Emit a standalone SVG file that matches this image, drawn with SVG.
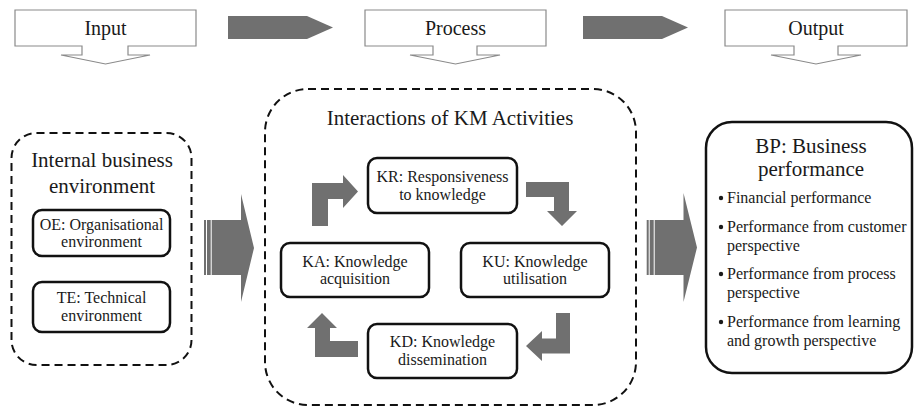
<svg xmlns="http://www.w3.org/2000/svg" width="915" height="410" viewBox="0 0 915 410" font-family="Liberation Serif, Times New Roman, serif">
<defs>
<style>
text{font-family:'Liberation Serif','Times New Roman',serif;fill:#1a1a1a;text-anchor:middle}
.hdr{font-size:20px}
.ttl{font-size:21px}
.lbl{font-size:16px}
.bl{font-size:16px;text-anchor:start}
.callout{fill:#fff;stroke:#8a8a8a;stroke-width:1.2}
.grey{fill:#707070;stroke:none}
.dash{fill:none;stroke:#111;stroke-width:2;stroke-dasharray:8 5}
.node{fill:#fff;stroke:#111;stroke-width:2.5}
</style>
</defs>
<rect width="915" height="410" fill="#fff"/>

<g id="input">
<path class="callout" d="M15,10 H196 V46 H128 V55 H150 L105.5,64 L61,55 H82 V46 H15 Z"/>
<text class="hdr" x="105.5" y="35">Input</text>
</g>
<g id="process">
<path class="callout" d="M365,10 H546 V46 H477 V55 H500 L455.5,64 L410,55 H433 V46 H365 Z"/>
<text class="hdr" x="455.5" y="35">Process</text>
</g>
<g id="output">
<path class="callout" d="M725,10 H907 V46 H838 V55 H861 L816,64 L771,55 H794 V46 H725 Z"/>
<text class="hdr" x="816" y="35">Output</text>
</g>

<g id="env">
<rect class="dash" x="11.5" y="133" width="180" height="232" rx="25"/>
<text class="ttl" x="102" y="167">Internal business</text>
<text class="ttl" x="102" y="193">environment</text>
</g>
<g id="oe">
<rect class="node" x="33" y="210" width="137" height="46" rx="9"/>
<text class="lbl" x="101.5" y="230">OE: Organisational</text>
<text class="lbl" x="101.5" y="247">environment</text>
</g>
<g id="te">
<rect class="node" x="33" y="282" width="137" height="50" rx="9"/>
<text class="lbl" x="101.5" y="303">TE: Technical</text>
<text class="lbl" x="101.5" y="321">environment</text>
</g>

<g id="km">
<rect class="dash" x="265" y="89" width="371" height="316" rx="43"/>
<text class="ttl" x="450" y="125">Interactions of KM Activities</text>
</g>
<g id="kr">
<rect class="node" x="368" y="158" width="149" height="55" rx="9"/>
<text class="lbl" x="442.5" y="182">KR: Responsiveness</text>
<text class="lbl" x="442.5" y="200">to knowledge</text>
</g>
<g id="ka">
<rect class="node" x="281" y="243" width="148" height="54" rx="9"/>
<text class="lbl" x="355" y="267">KA: Knowledge</text>
<text class="lbl" x="355" y="284">acquisition</text>
</g>
<g id="ku">
<rect class="node" x="461" y="243" width="148" height="54" rx="9"/>
<text class="lbl" x="535" y="267">KU: Knowledge</text>
<text class="lbl" x="535" y="284">utilisation</text>
</g>
<g id="kd">
<rect class="node" x="368" y="324" width="149" height="54" rx="9"/>
<text class="lbl" x="442.5" y="347">KD: Knowledge</text>
<text class="lbl" x="442.5" y="365">dissemination</text>
</g>

<g id="bp">
<rect class="node" x="706" y="122" width="206" height="251" rx="26"/>
<text class="ttl" x="811" y="153">BP: Business</text>
<text class="ttl" x="811" y="176">performance</text>
<circle cx="721" cy="198" r="2.2" fill="#1a1a1a"/>
<text class="bl" x="727" y="203">Financial performance</text>
<circle cx="721" cy="227" r="2.2" fill="#1a1a1a"/>
<text class="bl" x="727" y="232">Performance from customer</text>
<text class="bl" x="727" y="251">perspective</text>
<circle cx="721" cy="274" r="2.2" fill="#1a1a1a"/>
<text class="bl" x="727" y="279">Performance from process</text>
<text class="bl" x="727" y="298">perspective</text>
<circle cx="721" cy="322" r="2.2" fill="#1a1a1a"/>
<text class="bl" x="727" y="327">Performance from learning</text>
<text class="bl" x="727" y="346">and growth perspective</text>
</g>

<g id="connectors">
<polygon class="grey" points="228,16 307,16 333,27.5 307,39 228,39"/>
<polygon class="grey" points="583,16 662,16 688,27.5 662,39 583,39"/>
<g id="arrow-left">
<rect class="grey" x="204" y="220" width="2" height="55"/>
<rect class="grey" x="207" y="220" width="3.7" height="55"/>
<polygon class="grey" points="211.7,220 241,220 241,194 254,248 241,302 241,275 211.7,275"/>
</g>
<g id="arrow-right">
<rect class="grey" x="646.7" y="220" width="2" height="55"/>
<rect class="grey" x="649.7" y="220" width="4" height="55"/>
<polygon class="grey" points="654.7,220 683.5,220 683.5,193 697,247.5 683.5,302 683.5,275 654.7,275"/>
</g>
<polygon class="grey" points="312,226 312,183 343,183 343,175 358,191.5 343,208 343,199 328,199 328,226"/>
<polygon class="grey" points="526,182 569,182 569,211 577,211 562,226 547,211 554,211 554,197 526,197"/>
<polygon class="grey" points="570,313 570,353.5 542,353.5 542,361 526,346 542,331 542,338.5 556,338.5 556,313"/>
<polygon class="grey" points="358,341 358,357 315,357 315,328 307,328 322,313 337,328 330,328 330,341"/>
</g>
</svg>
